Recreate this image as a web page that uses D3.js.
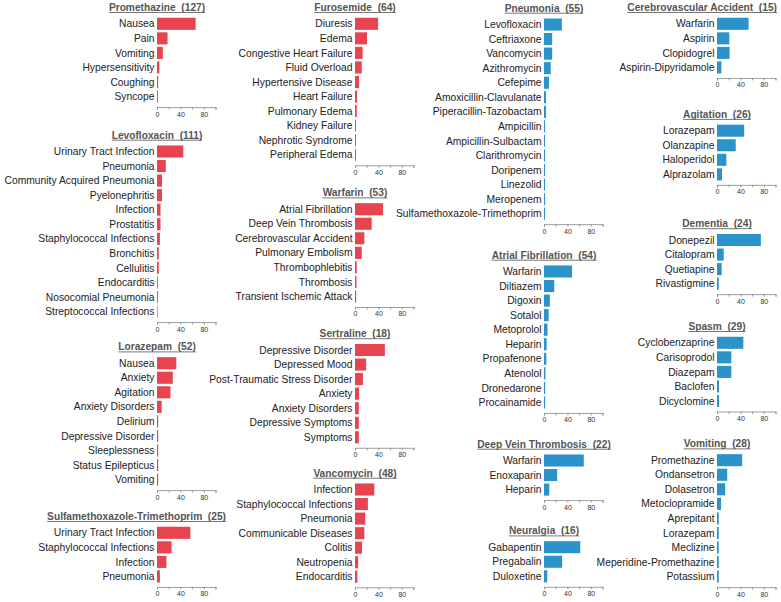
<!DOCTYPE html>
<html>
<head>
<meta charset="utf-8">
<script src="https://cdn.jsdelivr.net/npm/d3@7"></script>
<style>
  html, body { margin: 0; padding: 0; background: #fff; }
  svg { display: block; font-family: "Liberation Sans", Arial, Helvetica, sans-serif; }
</style>
</head>
<body>
<svg id="chart" width="781" height="602"></svg>
<script>
// ---------------- DATA ----------------
const promethazineLabels = ["Nausea", "Pain", "Vomiting", "Hypersensitivity", "Coughing", "Syncope"];
const promethazineValues = [66, 18, 10, 4, 2, 1.5];

const levofloxacinLabels = ["Urinary Tract Infection", "Pneumonia", "Community Acquired Pneumonia", "Pyelonephritis", "Infection", "Prostatitis", "Staphylococcal Infections", "Bronchitis", "Cellulitis", "Endocarditis", "Nosocomial Pneumonia", "Streptococcal Infections"];
const levofloxacinValues = [45, 15, 8.5, 8.5, 6, 6, 5, 3, 3, 1.5, 1.5, 1];

const lorazepamLabels = ["Nausea", "Anxiety", "Agitation", "Anxiety Disorders", "Delirium", "Depressive Disorder", "Sleeplessness", "Status Epilepticus", "Vomiting"];
const lorazepamValues = [33, 27, 23, 8, 2, 2, 2, 2, 2];

const smxTmpLabels = ["Urinary Tract Infection", "Staphylococcal Infections", "Infection", "Pneumonia"];
const smxTmpValues = [57, 25, 16, 5];

const furosemideLabels = ["Diuresis", "Edema", "Congestive Heart Failure", "Fluid Overload", "Hypertensive Disease", "Heart Failure", "Pulmonary Edema", "Kidney Failure", "Nephrotic Syndrome", "Peripheral Edema"];
const furosemideValues = [39.5, 20.5, 13, 11.5, 7, 3.4, 3, 1.6, 1.6, 1.6];

const warfarinLabels = ["Atrial Fibrillation", "Deep Vein Thrombosis", "Cerebrovascular Accident", "Pulmonary Embolism", "Thrombophlebitis", "Thrombosis", "Transient Ischemic Attack"];
const warfarinValues = [48, 28.5, 16, 11.5, 3, 2.5, 2];

const sertralineLabels = ["Depressive Disorder", "Depressed Mood", "Post-Traumatic Stress Disorder", "Anxiety", "Anxiety Disorders", "Depressive Symptoms", "Symptoms"];
const sertralineValues = [51, 19, 13.5, 7, 6.5, 6.5, 6.5];

const vancomycinLabels = ["Infection", "Staphylococcal Infections", "Pneumonia", "Communicable Diseases", "Colitis", "Neutropenia", "Endocarditis"];
const vancomycinValues = [33, 22, 17.5, 16, 12, 5.5, 4];

const pneumoniaLabels = ["Levofloxacin", "Ceftriaxone", "Vancomycin", "Azithromycin", "Cefepime", "Amoxicillin-Clavulanate", "Piperacillin-Tazobactam", "Ampicillin", "Ampicillin-Sulbactam", "Clarithromycin", "Doripenem", "Linezolid", "Meropenem", "Sulfamethoxazole-Trimethoprim"];
const pneumoniaValues = [30.5, 14, 14, 11.5, 8.5, 3.5, 3.5, 1.8, 1.8, 1.8, 1.8, 1.8, 1.8, 1.8];

const afLabels = ["Warfarin", "Diltiazem", "Digoxin", "Sotalol", "Metoprolol", "Heparin", "Propafenone", "Atenolol", "Dronedarone", "Procainamide"];
const afValues = [48, 17.5, 10, 8, 6, 4.5, 4, 2.5, 2, 2];

const dvtLabels = ["Warfarin", "Enoxaparin", "Heparin"];
const dvtValues = [68, 22.5, 9];

const neuralgiaLabels = ["Gabapentin", "Pregabalin", "Duloxetine"];
const neuralgiaValues = [62, 31, 5.5];

const cvaLabels = ["Warfarin", "Aspirin", "Clopidogrel", "Aspirin-Dipyridamole"];
const cvaValues = [54, 21, 21.5, 7.5];

const agitationLabels = ["Lorazepam", "Olanzapine", "Haloperidol", "Alprazolam"];
const agitationValues = [46.5, 32, 16, 8.5];

const dementiaLabels = ["Donepezil", "Citalopram", "Quetiapine", "Rivastigmine"];
const dementiaValues = [75, 11.5, 8, 3];

const spasmLabels = ["Cyclobenzaprine", "Carisoprodol", "Diazepam", "Baclofen", "Dicyclomine"];
const spasmValues = [45, 24.5, 24.5, 3.5, 3.5];

const vomitingLabels = ["Promethazine", "Ondansetron", "Dolasetron", "Metoclopramide", "Aprepitant", "Lorazepam", "Meclizine", "Meperidine-Promethazine", "Potassium"];
const vomitingValues = [43, 17.5, 14, 7, 3, 3, 3, 3, 3];

const panelTitles = ["Promethazine", "Levofloxacin", "Lorazepam", "Sulfamethoxazole-Trimethoprim",
  "Furosemide", "Warfarin", "Sertraline", "Vancomycin",
  "Pneumonia", "Atrial Fibrillation", "Deep Vein Thrombosis", "Neuralgia",
  "Cerebrovascular Accident", "Agitation", "Dementia", "Spasm", "Vomiting"];
const panelCounts = [127, 111, 52, 25, 64, 53, 18, 48, 55, 54, 22, 16, 15, 26, 24, 29, 28];
const panelKinds = ["drug", "drug", "drug", "drug", "drug", "drug", "drug", "drug",
  "condition", "condition", "condition", "condition", "condition", "condition", "condition", "condition", "condition"];
const panelLabels = [promethazineLabels, levofloxacinLabels, lorazepamLabels, smxTmpLabels,
  furosemideLabels, warfarinLabels, sertralineLabels, vancomycinLabels,
  pneumoniaLabels, afLabels, dvtLabels, neuralgiaLabels,
  cvaLabels, agitationLabels, dementiaLabels, spasmLabels, vomitingLabels];
const panelValues = [promethazineValues, levofloxacinValues, lorazepamValues, smxTmpValues,
  furosemideValues, warfarinValues, sertralineValues, vancomycinValues,
  pneumoniaValues, afValues, dvtValues, neuralgiaValues,
  cvaValues, agitationValues, dementiaValues, spasmValues, vomitingValues];

const xTickValues = [0, 20, 40, 60, 80, 100];
const xTickLabels = ["0", "", "40", "", "80", ""];

// ---------------- LAYOUT ----------------
const W = 781, H = 602;
const colAxisX = [157, 355, 544, 717];
const panelCol = [0, 0, 0, 0, 1, 1, 1, 1, 2, 2, 2, 2, 3, 3, 3, 3, 3];
const panelTitleY = [7.3, 135, 346.7, 516.3, 7.3, 192.7, 333.5, 473, 8, 255, 444, 530.7, 7.3, 114.2, 223.5, 326.3, 443.7];
const STEP = 14.55, FIRST = 16.5, AXIS_GAP = 10.5, AXIS_LEN = 58.5;
const colors = { drug: "#e8444f", condition: "#2b93c9" };

const svg = d3.select("#chart");

panelTitles.forEach((title, i) => {
  const labels = panelLabels[i], values = panelValues[i];
  const x0 = colAxisX[panelCol[i]];
  const ty = panelTitleY[i];
  const n = labels.length;
  const top = ty + FIRST - STEP / 2;

  const x = d3.scaleLinear().domain([0, 100]).range([x0, x0 + AXIS_LEN]);
  const y = d3.scaleBand().domain(labels).range([top, top + n * STEP])
    .paddingInner(0.17).paddingOuter(0.085);

  const g = svg.append("g");

  // title (centered on axis origin, clamped on the right)
  const t = g.append("text")
    .attr("y", ty)
    .attr("dy", "0.35em")
    .attr("font-size", 10.2)
    .attr("font-weight", "bold")
    .attr("fill", "#555")
    .style("white-space", "pre")
    .text(title + "  (" + panelCounts[i] + ")");
  const tw = t.node().getComputedTextLength();
  let right = x0 + tw / 2;
  right = Math.min(right, x0 + 69, W - 4);
  const left = right - tw;
  t.attr("x", left);
  g.append("line")
    .attr("x1", left).attr("x2", right)
    .attr("y1", ty + 5.2).attr("y2", ty + 5.2)
    .attr("stroke", "#666").attr("stroke-width", 0.9);

  // bars
  g.selectAll("rect.bar")
    .data(labels.map((l, k) => ({ l, v: values[k] })))
    .join("rect")
    .attr("class", "bar")
    .attr("x", x(0))
    .attr("y", d => y(d.l))
    .attr("width", d => x(d.v) - x(0))
    .attr("height", y.bandwidth())
    .attr("fill", colors[panelKinds[i]]);

  // row labels
  g.selectAll("text.lab")
    .data(labels)
    .join("text")
    .attr("class", "lab")
    .attr("x", x0 - 2.5)
    .attr("y", d => y(d) + y.bandwidth() / 2)
    .attr("dy", "0.35em")
    .attr("text-anchor", "end")
    .attr("font-size", 10.3)
    .attr("fill", "#222")
    .text(d => d);

  // x axis
  const axisY = ty + FIRST + (n - 1) * STEP + AXIS_GAP;
  const ax = g.append("g")
    .attr("transform", `translate(0,${axisY})`)
    .call(d3.axisBottom(x).tickValues(xTickValues)
      .tickFormat((d, k) => xTickLabels[k]).tickSize(2.5).tickPadding(2));
  ax.select(".domain").attr("stroke", "#888").attr("stroke-width", 0.8);
  ax.selectAll(".tick line").attr("stroke", "#888").attr("stroke-width", 0.8);
  ax.selectAll(".tick text").attr("font-size", 7).attr("fill", "#333")
    .attr("font-family", "'Liberation Sans', Arial, sans-serif");
});
</script>
</body>
</html>
